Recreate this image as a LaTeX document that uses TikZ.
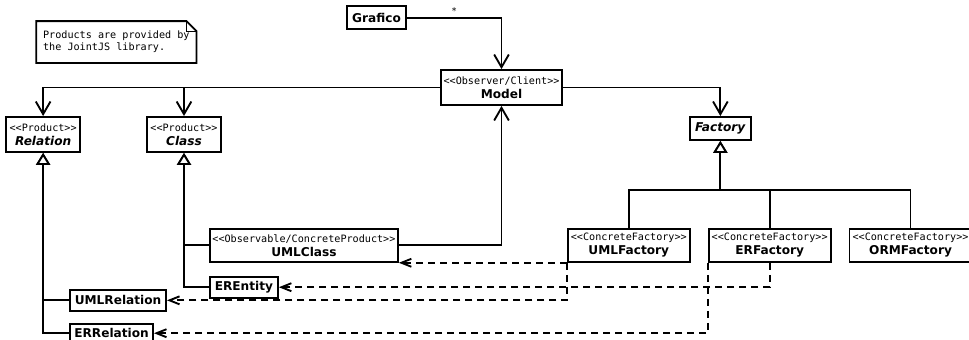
\documentclass[tikz,border=0pt]{standalone}
\usepackage{fontspec}
\setmainfont{DejaVu Sans}
\setmonofont{DejaVu Sans Mono}
\usetikzlibrary{arrows.meta, positioning}

\newcommand{\stereo}[1]{{\ttfamily\mdseries\upshape\fontsize{7.6}{9}\selectfont #1}}

\begin{document}
\begin{tikzpicture}[
    x=0.75pt, y=-0.75pt,
    line width=1.4pt,
    classbox/.style={draw, inner sep=0pt, align=center, font=\fontsize{9.1}{10.5}\selectfont\bfseries},
    notebox/.style={inner xsep=4.5pt, inner ysep=0pt, minimum height=30pt, align=left, font=\ttfamily\fontsize{7.6}{9}\selectfont},
    assoc/.style={-{Straight Barb[length=9.5pt, width=11pt]}},
    inherit/.style={-{Triangle[open, length=9pt, width=10.5pt, fill=white]}},
    depend/.style={dash pattern=on 5.25pt off 3.75pt, -{Straight Barb[length=7.5pt, width=6pt]}}
]
\useasboundingbox (0,0) rectangle (969,339);

% Model
\node[classbox, minimum width=90.75pt, minimum height=26.25pt] (model) at (501.5,87.5) {\stereo{<<Observer/Client>>}\\Model};

% Grafico
\node[classbox, minimum width=44.25pt, minimum height=17.25pt, above left=29.25pt and 70.9pt of model.north] (grafico) {Grafico};

% Products
\node[classbox, minimum width=55.5pt, minimum height=26.25pt, below left=21.4pt and 269.25pt of model.west] (relation) {\stereo{<<Product>>}\\\textit{Relation}};
\node[classbox, minimum width=55.5pt, minimum height=26.25pt, right=48.75pt of relation] (class) {\stereo{<<Product>>}\\\textit{Class}};

% Note
\node[notebox, above right=39.75pt and 23.25pt of relation.north west] (note) {Products are provided by\\the JointJS library.};
\draw (note.north west) -- ([xshift=-7.5pt]note.north east) -- ([yshift=-7.5pt]note.north east) -- (note.south east) -- (note.south west) -- cycle;
\draw[line width=0.6pt] ([xshift=-7.5pt]note.north east) |- ([yshift=-7.5pt]note.north east);

% Factory
\node[classbox, minimum width=45.75pt, minimum height=17.25pt, below right=21.4pt and 94.5pt of model.east] (factory) {\textit{Factory}};

% Concrete products
\node[classbox, minimum width=141pt, minimum height=24.75pt, below right=56.25pt and 18.75pt of class.south] (umlclass) {\stereo{<<Observable/ConcreteProduct>>}\\UMLClass};
\node[classbox, minimum width=51pt, minimum height=15.75pt, below=9.75pt of umlclass.south west, anchor=north west] (erentity) {EREntity};
\node[classbox, minimum width=72pt, minimum height=15.75pt, below right=102pt and 19.5pt of relation.south] (umlrelation) {UMLRelation};
\node[classbox, minimum width=62.25pt, minimum height=14.25pt, below=8.25pt of umlrelation.south west, anchor=north west] (errelation) {ERRelation};

% Concrete factories
\node[classbox, minimum width=91.5pt, minimum height=24.75pt, right=126pt of umlclass] (umlfactory) {\stereo{<<ConcreteFactory>>}\\UMLFactory};
\node[classbox, minimum width=91.5pt, minimum height=24.75pt, right=12.75pt of umlfactory] (erfactory) {\stereo{<<ConcreteFactory>>}\\ERFactory};
\node[classbox, minimum width=91.5pt, minimum height=24.75pt, right=12.75pt of erfactory] (ormfactory) {\stereo{<<ConcreteFactory>>}\\ORMFactory};

% Associations
\draw[assoc] (grafico.east) -| node[pos=0.25, above=-1.5pt, font=\fontsize{7}{7}\selectfont] {*} (model.north);
\draw[assoc] (model.west) -| (relation.north);
\draw[assoc] (model.west) -| (class.north);
\draw[assoc] (model.east) -| (factory.north);
\draw[assoc] (umlclass.east) -| (model.south);

% Generalizations
\draw[inherit] (umlclass.west) -| (class.south);
\draw[inherit] (erentity.west) -| (class.south);
\draw[inherit] (umlrelation.west) -| (relation.south);
\draw[inherit] (errelation.west) -| (relation.south);
\coordinate[below=36.75pt of factory.south] (fjoin);
\draw[inherit] (umlfactory.north) |- (fjoin) -- (factory.south);
\draw[inherit] (ormfactory.north) |- (fjoin) -- (factory.south);
\draw (erfactory.north) -- (erfactory.north |- fjoin);

% Dependencies
\draw[depend] (umlfactory.south west) -- (umlclass.south east);
\draw[depend] (umlfactory.south west) |- (umlrelation.east);
\draw[depend] (erfactory.south) |- (erentity.east);
\draw[depend] (erfactory.south west) |- (errelation.east);

\end{tikzpicture}
\end{document}
